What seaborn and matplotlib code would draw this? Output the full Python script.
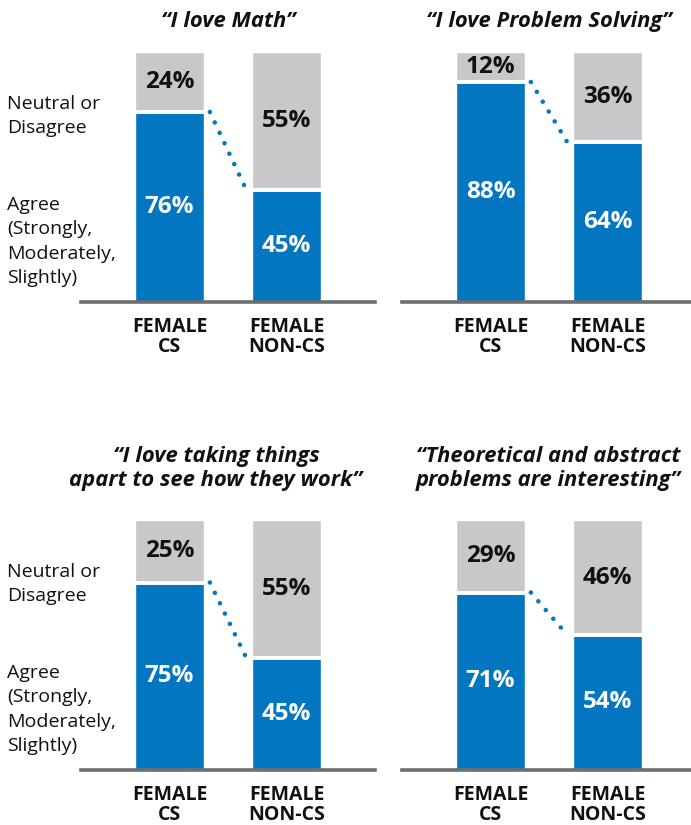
import matplotlib
matplotlib.use("Agg")
import matplotlib.pyplot as plt
import seaborn as sns
import pandas as pd

sns.set_theme(style="white")
plt.rcParams['font.family'] = ['Open Sans', 'DejaVu Sans']

# ---- data ----
titles = ['\u201cI love Math\u201d',
          '\u201cI love Problem Solving\u201d',
          '\u201cI love taking things\napart to see how they work\u201d',
          '\u201cTheoretical and abstract\nproblems are interesting\u201d']
categories = ['FEMALE\nCS', 'FEMALE\nNON-CS']
agree_math = [76, 45]
agree_problem = [88, 64]
agree_apart = [75, 45]
agree_theory = [71, 54]
neutral_math = [24, 55]
neutral_problem = [12, 36]
neutral_apart = [25, 55]
neutral_theory = [29, 46]
side_labels = ['Neutral or\nDisagree', 'Agree\n(Strongly,\nModerately,\nSlightly)']

agree_sets = [agree_math, agree_problem, agree_apart, agree_theory]
neutral_sets = [neutral_math, neutral_problem, neutral_apart, neutral_theory]

BLUE = '#0276C0'
GRAY = '#C8C8CA'
AXIS = '#6D6E70'
TXT = '#111111'

W, H = 691, 825
fig = plt.figure(figsize=(W / 100, H / 100), dpi=100)

bar_w = 0.59
# axes positions in pixels: (left, baseline_y_from_top)
panels = [(81, 302), (402, 302), (81, 770), (402, 770)]
title_cx = [228, 549, 216, 548]
ax_w_px, ax_h_px = 294, 250

for k, (lx, base) in enumerate(panels):
    ax = fig.add_axes([lx / W, (H - base) / H, ax_w_px / W, ax_h_px / H])
    agree = agree_sets[k]
    neutral = neutral_sets[k]
    total = [a + n for a, n in zip(agree, neutral)]
    df = pd.DataFrame({'cat': categories, 'agree': agree, 'neutral': neutral, 'total': total})
    sns.barplot(data=df, x='cat', y='total', color=GRAY, saturation=1, width=bar_w, ax=ax)
    sns.barplot(data=df, x='cat', y='agree', color=BLUE, saturation=1, width=bar_w, ax=ax)
    ax.set_xlim(-0.756, 1.756)
    ax.set_ylim(0, 100)
    ax.set_xlabel('')
    ax.set_ylabel('')
    ax.set_yticks([])
    for s in ['top', 'left', 'right']:
        ax.spines[s].set_visible(False)
    ax.spines['bottom'].set_color(AXIS)
    ax.spines['bottom'].set_linewidth(2.6)
    ax.spines['bottom'].set_zorder(5)
    ax.tick_params(axis='x', length=0, pad=11)
    ax.set_xticks(range(len(categories)))
    ax.set_xticklabels(categories, fontsize=14, fontweight='bold', color=TXT, linespacing=1.0)
    ax.patch.set_alpha(0)

    for i in range(len(categories)):
        # white separator
        ax.hlines(agree[i], i - bar_w / 2, i + bar_w / 2, color='white', lw=2.8, zorder=4)
        ax.text(i, agree[i] / 2, f'{agree[i]}%', ha='center', va='center',
                fontsize=17.5, fontweight='bold', color='white', zorder=6)
        ax.text(i, agree[i] + neutral[i] / 2, f'{neutral[i]}%', ha='center', va='center',
                fontsize=17.5, fontweight='bold', color=TXT, zorder=6)

    # dotted connector
    gap = 0.05
    ax.plot([0 + bar_w / 2 + gap, 1 - bar_w / 2 - gap], [agree[0], agree[1]],
            color=BLUE, lw=3.3, ls=(0, (0.01, 2.5)), dash_capstyle='round',
            solid_capstyle='round', zorder=6, clip_on=False)

    # title
    nlines = titles[k].count('\n') + 1
    top = base - ax_h_px
    ty = top - 25 if nlines == 1 else top - 34
    fig.text(title_cx[k] / W, (H - ty) / H, titles[k], ha='center', va='baseline',
             fontsize=15.8, fontweight='bold', fontstyle='italic', color=TXT,
             linespacing=1.18)

    # side labels on left panels
    if k in (0, 2):
        fig.text(7 / W, (H - (top + 81)) / H, side_labels[0], ha='left', va='baseline',
                 fontsize=14, color=TXT, linespacing=1.45)
        fig.text(7 / W, (H - (top + 231)) / H, side_labels[1], ha='left', va='baseline',
                 fontsize=14, color=TXT, linespacing=1.45)

fig.savefig('out.png', dpi=100)
